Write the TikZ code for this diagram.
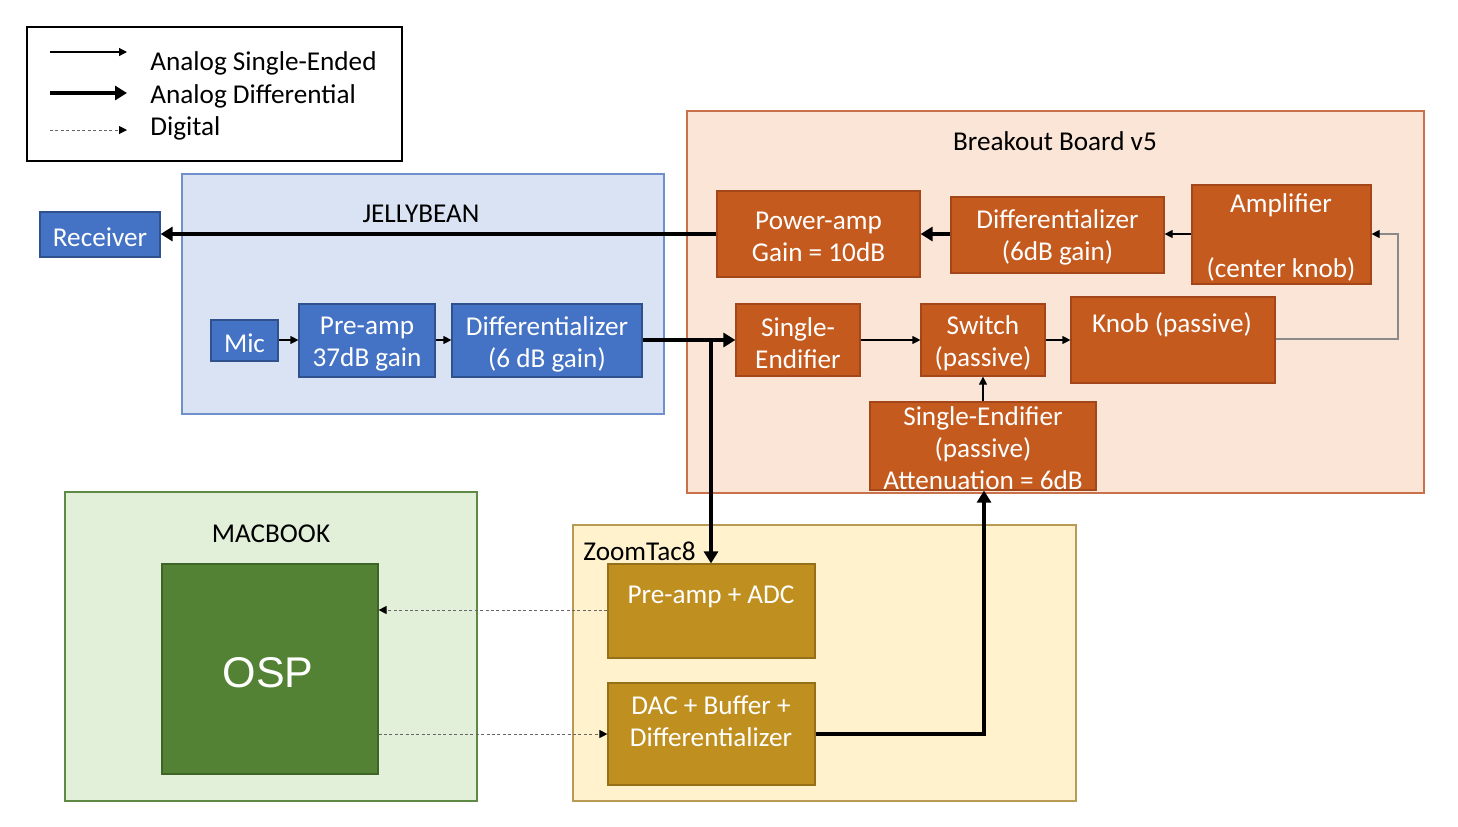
\documentclass[tikz,border=0pt]{standalone}
\usepackage{fontspec}
\setmainfont{Carlito}
\newfontfamily\ospfont{Liberation Sans}
\usetikzlibrary{arrows.meta,fit}
\definecolor{blueF}{HTML}{4472C4}
\definecolor{blueD}{HTML}{2F528F}
\definecolor{jbF}{HTML}{DAE3F3}
\definecolor{jbD}{HTML}{6F90CB}
\definecolor{orF}{HTML}{C55A1F}
\definecolor{orD}{HTML}{A3461A}
\definecolor{boF}{HTML}{FBE5D6}
\definecolor{boD}{HTML}{C9714A}
\definecolor{grF}{HTML}{548235}
\definecolor{grD}{HTML}{3F6428}
\definecolor{mbF}{HTML}{E2F0D9}
\definecolor{mbD}{HTML}{5F8A45}
\definecolor{goF}{HTML}{BF8F20}
\definecolor{goD}{HTML}{957018}
\definecolor{ztF}{HTML}{FFF2CC}
\definecolor{ztD}{HTML}{B89A55}
\definecolor{knobline}{HTML}{8A8A8A}
\tikzset{
  lbl/.style={font=\fontsize{13.6}{16}\selectfont, align=center, inner sep=0pt},
  wlbl/.style={lbl, text=white},
  group/.style={draw, line width=0.6pt, inner sep=0pt},
  blk/.style={draw, line width=0.6pt, inner sep=0pt},
  blueblk/.style={blk, fill=blueF, draw=blueD},
  orblk/.style={blk, fill=orF, draw=orD},
  goblk/.style={blk, fill=goF, draw=goD},
  se/.style={line width=0.6pt, -{Triangle[length=4pt,width=4pt]}},
  diff/.style={line width=2pt, -{Triangle[length=6pt,width=7pt]}},
  digi/.style={line width=0.5pt, dash pattern=on 1.5pt off 1.2pt, draw=black!60, -{Triangle[length=4pt,width=4pt,black]}},
}
\begin{document}
\begin{tikzpicture}[x=0.5pt,y=-0.5pt]
\useasboundingbox (0,0) rectangle (1458,826);
% legend
\node[group, draw=black, fit={(27,27)(402,161)}] (legend) {};
\coordinate (l1a) at (50,52); \coordinate (l1b) at (127,52);
\coordinate (l2a) at (50,93); \coordinate (l2b) at (127,93);
\coordinate (l3a) at (50,130); \coordinate (l3b) at (127,130);
\draw[se] (l1a) -- (l1b);
\draw[diff] (l2a) -- (l2b);
\draw[digi] (l3a) -- (l3b);
\node[lbl, anchor=west] (t1) at (150,63) {Analog Single-Ended};
\node[lbl, anchor=west] (t2) at (150,96) {Analog Differential};
\node[lbl, anchor=west] (t3) at (150,128) {Digital};
% groups
\node[group, fill=jbF, draw=jbD, fit={(182,174)(664,414)}] (jelly) {};
\node[lbl] (jellyT) at (421,214) {JELLYBEAN};
\node[group, fill=boF, draw=boD, fit={(687,111)(1424,493)}] (bo) {};
\node[lbl] (boT) at (1055,141) {Breakout Board v5};
\node[group, fill=mbF, draw=mbD, fit={(65,492)(477,801)}] (mac) {};
\node[lbl] (macT) at (271,534) {MACBOOK};
\node[group, fill=ztF, draw=ztD, fit={(573,525)(1076,801)}] (zt) {};
\node[lbl, anchor=west] (ztT) at (583,551) {ZoomTac8};
% blue blocks
\node[blueblk, fit={(40,212)(160,257)}] (rec) {};
\node[wlbl] (recT) at (100,237) {Receiver};
\node[blueblk, fit={(211,320)(278,361)}] (mic) {};
\node[wlbl] (micT) at (244.5,343) {Mic};
\node[blueblk, fit={(299,304)(435,377)}] (pre) {};
\node[wlbl] (preT) at (367,344) {Pre-amp\\37dB gain};
\node[blueblk, fit={(452,304)(642,377)}] (dif1) {};
\node[wlbl] (dif1T) at (547,344) {Differentializer\\(6 dB gain)};
% orange blocks
\node[orblk, fit={(717,191)(920,277)}] (pamp) {};
\node[wlbl] (pampT) at (818.5,237) {Power-amp\\Gain = 10dB};
\node[orblk, fit={(951,197)(1164,273)}] (dif2) {};
\node[wlbl] (dif2T) at (1057.5,237) {Differentializer\\(6dB gain)};
\node[orblk, fit={(1192,185)(1371,284)}] (amp) {};
\node[wlbl] (ampT) at (1281,205) {Amplifier};
\node[wlbl] (ampT2) at (1281,269) {(center knob)};
\node[orblk, fit={(736,304)(860,376)}] (se1) {};
\node[wlbl] (se1T) at (798,343) {Single-\\Endifier};
\node[orblk, fit={(921,304)(1045,376)}] (sw) {};
\node[wlbl] (swT) at (983,343) {Switch\\(passive)};
\node[orblk, fit={(1071,297)(1275,383)}] (knob) {};
\node[wlbl] (knobT) at (1172,325) {Knob (passive)};
\node[orblk, fit={(870,402)(1096,490)}] (se2) {};
\node[wlbl] (se2T) at (983,448) {Single-Endifier\\(passive)\\Attenuation = 6dB};
% macbook
\node[blk, fill=grF, draw=grD, fit={(162,564)(378,774)}] (osp) {};
\node[text=white, inner sep=0pt, font=\ospfont\fontsize{21.5}{24}\selectfont] (ospT) at (268,673) {OSP};
% zoomtac blocks
\node[goblk, fit={(608,564)(815,658)}] (adc) {};
\node[wlbl] (adcT) at (711,597) {Pre-amp + ADC};
\node[goblk, fit={(608,683)(815,785)}] (dac) {};
\node[wlbl] (dacT) at (711,721) {DAC + Buffer +\\Differentializer};
% connectors
\draw[diff] (pamp.west |- 0,234) -- (rec.east |- 0,234);
\draw[diff] (dif2.west |- 0,234) -- (pamp.east |- 0,234);
\draw[se] (amp.west |- 0,234) -- (dif2.east |- 0,234);
\coordinate (kc) at (1398,339);
\draw[line width=0.6pt, draw=knobline, -{Triangle[length=4pt,width=4pt,black]}] (knob.east |- kc) -- (kc) -- (kc |- 0,234) -- (amp.east |- 0,234);
\draw[se] (mic.east |- 0,340) -- (pre.west |- 0,340);
\draw[se] (pre.east |- 0,340) -- (dif1.west |- 0,340);
\draw[diff] (dif1.east |- 0,340) -- (se1.west |- 0,340);
\coordinate (br) at (711,340);
\draw[diff] (br) -- (adc.north -| br);
\draw[se] (se1.east |- 0,340) -- (sw.west |- 0,340);
\draw[se] (sw.east |- 0,340) -- (knob.west |- 0,340);
\draw[se] (se2.north -| 983,0) -- (sw.south -| 983,0);
\coordinate (dc) at (984,734);
\draw[diff] (dac.east |- dc) -- (dc) -- (se2.south -| dc);
\draw[digi] (adc.west |- 0,610) -- (osp.east |- 0,610);
\draw[digi] (osp.east |- 0,734) -- (dac.west |- 0,734);
\end{tikzpicture}
\end{document}
